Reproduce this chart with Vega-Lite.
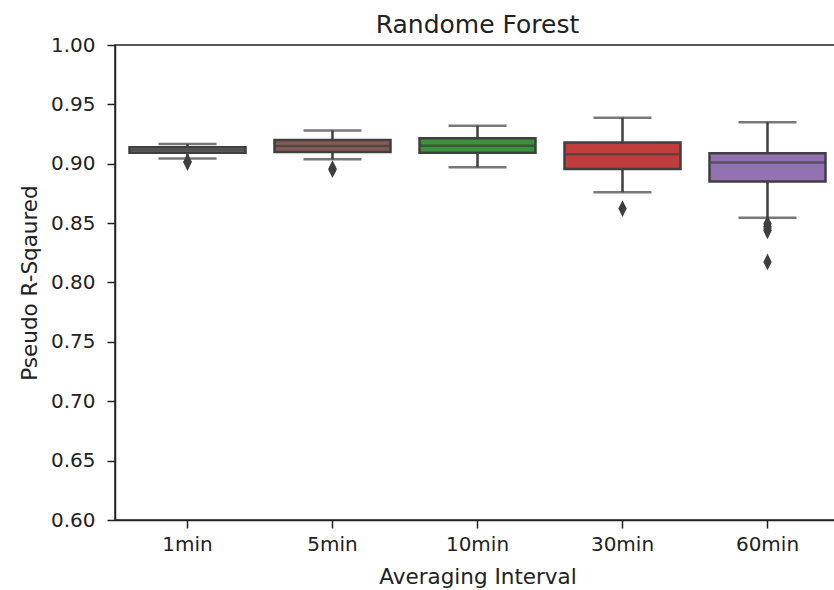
{
  "$schema": "https://vega.github.io/schema/vega-lite/v6.json",
  "width": 725,
  "height": 475,
  "autosize": "none",
  "padding": {"left": 115, "top": 45, "right": 0, "bottom": 70},
  "background": "white",
  "title": {"text": "Randome Forest", "font": "DejaVu Sans", "fontSize": 25, "fontWeight": "normal", "color": "#222", "offset": -3},
  "config": {
    "view": {"stroke": "#222", "strokeWidth": 1.5},
    "axis": {"grid": false, "labelFont": "DejaVu Sans", "titleFont": "DejaVu Sans", "labelFontSize": 20, "titleFontSize": 21.5, "titleFontWeight": "normal", "labelColor": "#222", "titleColor": "#222", "tickColor": "#222", "domainColor": "#222", "domainWidth": 1.5, "tickWidth": 1.5, "tickSize": 8}
  },
  "datasets": {
    "boxes": [
      {"interval": "1min", "lower": 0.9045, "q1": 0.9092, "median": 0.9115, "q3": 0.9138, "upper": 0.9166},
      {"interval": "5min", "lower": 0.9037, "q1": 0.9100, "median": 0.9150, "q3": 0.9200, "upper": 0.9280},
      {"interval": "10min", "lower": 0.8970, "q1": 0.9093, "median": 0.9152, "q3": 0.9214, "upper": 0.9320},
      {"interval": "30min", "lower": 0.8760, "q1": 0.8956, "median": 0.9080, "q3": 0.9178, "upper": 0.9388},
      {"interval": "60min", "lower": 0.8546, "q1": 0.8850, "median": 0.9010, "q3": 0.9088, "upper": 0.9350}
    ],
    "outliers": [
      {"interval": "1min", "value": 0.9020},
      {"interval": "1min", "value": 0.9010},
      {"interval": "5min", "value": 0.8960},
      {"interval": "5min", "value": 0.8950},
      {"interval": "30min", "value": 0.8623},
      {"interval": "60min", "value": 0.8495},
      {"interval": "60min", "value": 0.8470},
      {"interval": "60min", "value": 0.8450},
      {"interval": "60min", "value": 0.8435},
      {"interval": "60min", "value": 0.8173}
    ]
  },
  "encoding": {
    "x": {"field": "interval", "type": "nominal", "sort": ["1min", "5min", "10min", "30min", "60min"], "scale": {"paddingInner": 0, "paddingOuter": 0}, "axis": {"title": "Averaging Interval", "labelAngle": 0, "labelPadding": 6, "titlePadding": 12}}
  },
  "layer": [
    {
      "data": {"name": "boxes"},
      "mark": {"type": "rule", "color": "#3f3f3f", "strokeWidth": 2.5},
      "encoding": {
        "y": {"field": "lower", "type": "quantitative", "scale": {"domain": [0.6, 1.0], "nice": false, "zero": false}, "axis": {"title": "Pseudo R-Sqaured", "format": ".2f", "values": [0.6, 0.65, 0.7, 0.75, 0.8, 0.85, 0.9, 0.95, 1.0], "labelPadding": 12, "titlePadding": 9}},
        "y2": {"field": "upper"}
      }
    },
    {
      "data": {"name": "boxes"},
      "mark": {"type": "tick", "color": "#3f3f3f", "size": 58, "thickness": 2.5},
      "encoding": {"y": {"field": "lower", "type": "quantitative"}}
    },
    {
      "data": {"name": "boxes"},
      "mark": {"type": "tick", "color": "#3f3f3f", "size": 58, "thickness": 2.5},
      "encoding": {"y": {"field": "upper", "type": "quantitative"}}
    },
    {
      "data": {"name": "boxes"},
      "mark": {"type": "bar", "stroke": "#3f3f3f", "strokeWidth": 2.5, "width": {"band": 0.8}},
      "encoding": {
        "y": {"field": "q1", "type": "quantitative"},
        "y2": {"field": "q3"},
        "color": {"field": "interval", "type": "nominal", "legend": null, "scale": {"domain": ["1min", "5min", "10min", "30min", "60min"], "range": ["#7f7f7f", "#845b53", "#3a923a", "#c03d3e", "#9372b2"]}}
      }
    },
    {
      "data": {"name": "boxes"},
      "mark": {"type": "tick", "color": "#3f3f3f", "size": 116, "thickness": 2.5},
      "encoding": {"y": {"field": "median", "type": "quantitative"}}
    },
    {
      "data": {"name": "outliers"},
      "mark": {"type": "point", "shape": "M0,-1L0.5,0L0,1L-0.5,0Z", "filled": true, "color": "#3f3f3f", "opacity": 1, "size": 280},
      "encoding": {"y": {"field": "value", "type": "quantitative"}}
    }
  ]
}
